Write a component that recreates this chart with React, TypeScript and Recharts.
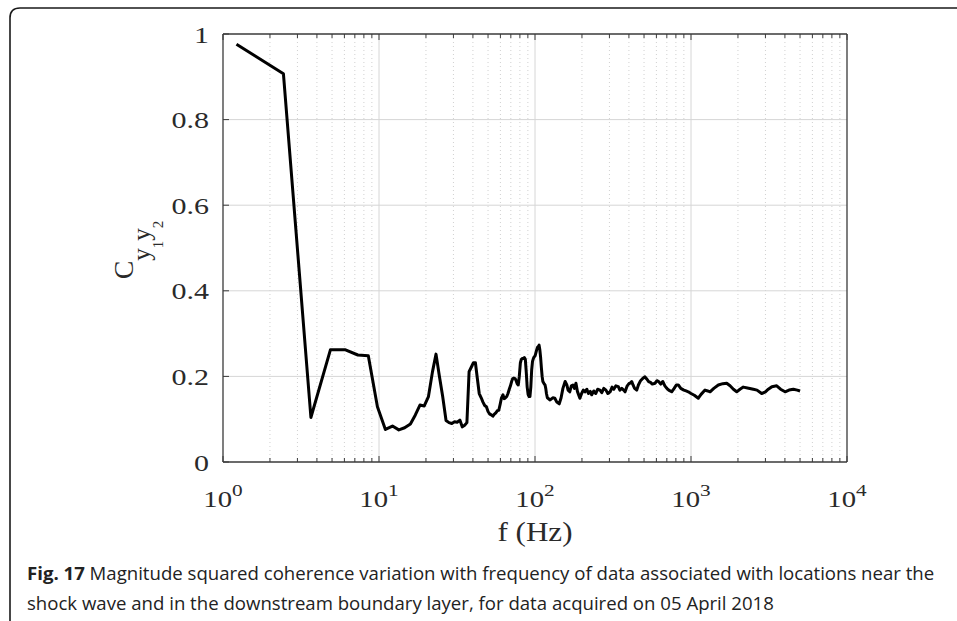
import React from 'react';
import { LineChart, Line, XAxis, YAxis, CartesianGrid } from 'recharts';

// frequency (Hz) and magnitude squared coherence
const FREQ = [
  1.22, 2.44, 3.66, 4.88, 6.1, 7.32, 8.54, 9.77, 10.99, 12.2, 13.4, 14.6, 15.9, 17.1, 18.3, 19.5,
  20.75, 22.0, 23.2, 24.4, 25.6, 26.9, 28.1, 29.3, 30.5, 31.7, 33.0, 34.2, 35.4, 36.6, 37.8, 39.1,
  40.3, 41.5, 42.7, 43.9, 45.2, 46.4, 47.6, 48.8, 50.0, 51.3, 52.5, 53.7, 54.9, 56.2, 57.4, 58.6,
  59.8, 61.0, 62.3, 63.5, 64.7, 65.9, 67.1, 68.4, 69.6, 70.8, 72.0, 73.2, 74.5, 75.7, 76.9, 78.1,
  79.3, 80.6, 81.8, 83.0, 84.2, 85.4, 86.7, 87.9, 89.1, 90.3, 91.6, 92.8, 94.0, 95.2, 96.4, 97.7,
  98.9, 100.1, 101.3, 102.5, 103.8, 105.0, 106.2, 107.4, 108.6, 109.9, 111.1, 112.3, 113.5, 114.7,
  116.0, 117.2, 118.4, 120, 125, 130, 134, 138, 143, 147, 151, 156, 160, 163, 167, 171, 175, 179,
  183, 187, 190, 194, 199, 204, 209, 215, 220, 226, 231, 238, 245, 252, 261, 268, 276, 285, 293,
  303, 312, 320, 330, 342, 350, 360, 370, 378, 390, 400, 410, 417, 425, 435, 449, 460, 475, 490,
  507, 520, 535, 550, 565, 588, 605, 620, 640, 659, 680, 700, 720, 752, 780, 805, 829, 860, 900,
  930, 961, 1000, 1050, 1114, 1160, 1230, 1280, 1325, 1400, 1497, 1600, 1694, 1780, 1870, 1964,
  2060, 2164, 2300, 2509, 2650, 2838, 3000, 3130, 3300, 3543, 3750, 4010, 4250, 4532, 4800, 5000,
];

const COHERENCE = [
  0.976, 0.907, 0.104, 0.262, 0.262, 0.25, 0.248, 0.129, 0.076, 0.084, 0.075, 0.08, 0.089, 0.11, 0.133, 0.131,
  0.153, 0.21, 0.252, 0.2, 0.153, 0.097, 0.092, 0.09, 0.094, 0.093, 0.098, 0.082, 0.086, 0.092, 0.211, 0.222,
  0.232, 0.232, 0.195, 0.16, 0.15, 0.14, 0.132, 0.129, 0.118, 0.112, 0.11, 0.107, 0.112, 0.115, 0.12, 0.121,
  0.135, 0.15, 0.157, 0.148, 0.15, 0.153, 0.16, 0.17, 0.178, 0.188, 0.195, 0.196, 0.195, 0.19, 0.183, 0.18,
  0.2, 0.232, 0.24, 0.242, 0.242, 0.244, 0.24, 0.21, 0.175, 0.158, 0.153, 0.153, 0.175, 0.215, 0.235, 0.242,
  0.246, 0.248, 0.255, 0.262, 0.268, 0.27, 0.273, 0.262, 0.245, 0.22, 0.2, 0.188, 0.185, 0.182,
  0.18, 0.172, 0.16, 0.15, 0.145, 0.15, 0.149, 0.14, 0.136, 0.15, 0.172, 0.188, 0.18, 0.168, 0.164, 0.178, 0.18, 0.172,
  0.184, 0.165, 0.158, 0.149, 0.16, 0.168, 0.164, 0.17, 0.16, 0.165, 0.157, 0.166, 0.16, 0.17, 0.168, 0.162, 0.172, 0.168, 0.16,
  0.164, 0.175, 0.17, 0.178, 0.176, 0.168, 0.172, 0.168, 0.164, 0.178, 0.183, 0.185, 0.188, 0.18, 0.172, 0.168, 0.18, 0.19, 0.195,
  0.199, 0.194, 0.188, 0.186, 0.182, 0.184, 0.19, 0.188, 0.182, 0.188, 0.178, 0.172, 0.168, 0.164, 0.172, 0.18, 0.18, 0.172, 0.168,
  0.166, 0.164, 0.16, 0.156, 0.149, 0.158, 0.168, 0.166, 0.164, 0.172, 0.18, 0.183, 0.184, 0.178, 0.17, 0.164,
  0.17, 0.175, 0.173, 0.17, 0.168, 0.16, 0.164, 0.17, 0.176, 0.178, 0.17, 0.164, 0.168, 0.17, 0.168, 0.166,
];

const X_MAJOR = [1, 10, 100, 1000, 10000];
const X_EXP = ['0', '1', '2', '3', '4'];
const Y_TICKS = [0, 0.2, 0.4, 0.6, 0.8, 1];
const Y_LABELS = ['0', '0.2', '0.4', '0.6', '0.8', '1'];

const CAPTION_BOLD = 'Fig. 17';
const CAPTION_LINE1 = ' Magnitude squared coherence variation with frequency of data associated with locations near the';
const CAPTION_LINE2 = 'shock wave and in the downstream boundary layer, for data acquired on 05 April 2018';

const X_MINOR: number[] = [];
X_MAJOR.slice(0, -1).forEach((d) => {
  for (let k = 2; k <= 9; k++) X_MINOR.push(d * k);
});
const X_ALL = [...X_MAJOR, ...X_MINOR].sort((a, b) => a - b);

const data = FREQ.map((f, i) => ({ f, c: COHERENCE[i] }));

const SERIF = '"Liberation Serif", "Times New Roman", serif';
const AXIS = '#3a3a3a';
const TICK_TEXT = '#2a2a2a';

const BottomTick = (props: any) => {
  const { x, y, payload } = props;
  const idx = X_MAJOR.indexOf(payload.value);
  const len = idx >= 0 ? 6 : 4;
  return (
    <g>
      <line x1={x} y1={y} x2={x} y2={y - len} stroke={AXIS} strokeWidth={1} />
      {idx >= 0 && (
        <text
          transform={`translate(${x},${y + 45}) scale(1.25,1)`}
          textAnchor="middle"
          fontFamily={SERIF}
          fill={TICK_TEXT}
        >
          <tspan fontSize={23}>10</tspan>
          <tspan fontSize={17} dy={-11}>{X_EXP[idx]}</tspan>
        </text>
      )}
    </g>
  );
};

const TopTick = (props: any) => {
  const { x, y, payload } = props;
  const len = X_MAJOR.includes(payload.value) ? 6 : 4;
  return <line x1={x} y1={y} x2={x} y2={y + len} stroke={AXIS} strokeWidth={1} />;
};

const LeftTick = (props: any) => {
  const { x, y, payload } = props;
  const idx = Y_TICKS.indexOf(payload.value);
  return (
    <g>
      <line x1={x} y1={y} x2={x + 6} y2={y} stroke={AXIS} strokeWidth={1} />
      <text
        transform={`translate(${x - 14},${y}) scale(1.25,1)`}
        textAnchor="end"
        dy="0.36em"
        fontSize={24}
        fontFamily={SERIF}
        fill={TICK_TEXT}
      >
        {Y_LABELS[idx]}
      </text>
    </g>
  );
};

const RightTick = (props: any) => {
  const { x, y } = props;
  return <line x1={x} y1={y} x2={x - 6} y2={y} stroke={AXIS} strokeWidth={1} />;
};

export default function App() {
  return (
    <div style={{ position: 'absolute', left: 0, top: 0, width: 957, height: 621, background: '#fff' }}>
      <LineChart
        width={957}
        height={621}
        data={data}
        margin={{ top: 24, right: 90, bottom: 99, left: 143 }}
      >
        <CartesianGrid
          horizontal={false}
          verticalValues={X_MINOR}
          stroke="#d0d0d0"
          strokeDasharray="1 3"
        />
        <CartesianGrid
          horizontalValues={[0.2, 0.4, 0.6, 0.8]}
          verticalValues={[10, 100, 1000]}
          stroke="#d6d6d6"
        />
        <XAxis
          dataKey="f"
          type="number"
          scale="log"
          domain={[1, 10000]}
          ticks={X_ALL}
          interval={0}
          height={60}
          tickSize={0}
          tickMargin={0}
          tickLine={false}
          axisLine={{ stroke: AXIS, strokeWidth: 1.3 }}
          tick={<BottomTick />}
        />
        <XAxis
          xAxisId="top"
          orientation="top"
          dataKey="f"
          type="number"
          scale="log"
          domain={[1, 10000]}
          ticks={X_ALL}
          interval={0}
          height={10}
          tickSize={0}
          tickMargin={0}
          tickLine={false}
          axisLine={{ stroke: AXIS, strokeWidth: 1.3 }}
          tick={<TopTick />}
        />
        <YAxis
          type="number"
          domain={[0, 1]}
          ticks={Y_TICKS}
          interval={0}
          width={80}
          tickSize={0}
          tickMargin={0}
          tickLine={false}
          axisLine={{ stroke: AXIS, strokeWidth: 1.3 }}
          tick={<LeftTick />}
        />
        <YAxis
          yAxisId="right"
          orientation="right"
          type="number"
          domain={[0, 1]}
          ticks={Y_TICKS}
          interval={0}
          width={20}
          tickSize={0}
          tickMargin={0}
          tickLine={false}
          axisLine={{ stroke: AXIS, strokeWidth: 1.3 }}
          tick={<RightTick />}
        />
        <Line
          type="linear"
          dataKey="c"
          stroke="#000"
          strokeWidth={3}
          strokeLinejoin="round"
          dot={false}
          isAnimationActive={false}
        />
      </LineChart>

      <svg
        width={957}
        height={621}
        style={{ position: 'absolute', left: 0, top: 0, pointerEvents: 'none' }}
      >
        <path d="M 10 621 L 10 18 Q 10 8 20 8 L 957 8" fill="none" stroke="#1a1a1a" strokeWidth={1.6} />
        <text
          transform="translate(133,250) rotate(-90)"
          textAnchor="middle"
          fontFamily={SERIF}
          fill={TICK_TEXT}
        >
          <tspan fontSize={28}>C</tspan>
          <tspan fontSize={25} dy={17}>y</tspan>
          <tspan fontSize={15} dy={13}>1</tspan>
          <tspan fontSize={25} dy={-13}>y</tspan>
          <tspan fontSize={15} dy={13}>2</tspan>
        </text>
        <text
          transform="translate(535,541) scale(1.15,1)"
          textAnchor="middle"
          fontFamily={SERIF}
          fontSize={27}
          fill={TICK_TEXT}
        >
          f (Hz)
        </text>
        <text x={27} y={580} fontFamily='"Open Sans", sans-serif' fontSize={18.6} fill="#222">
          <tspan fontWeight="bold">{CAPTION_BOLD}</tspan>
          <tspan>{CAPTION_LINE1}</tspan>
        </text>
        <text x={27} y={610} fontFamily='"Open Sans", sans-serif' fontSize={18.6} fill="#222">
          {CAPTION_LINE2}
        </text>
      </svg>
    </div>
  );
}
